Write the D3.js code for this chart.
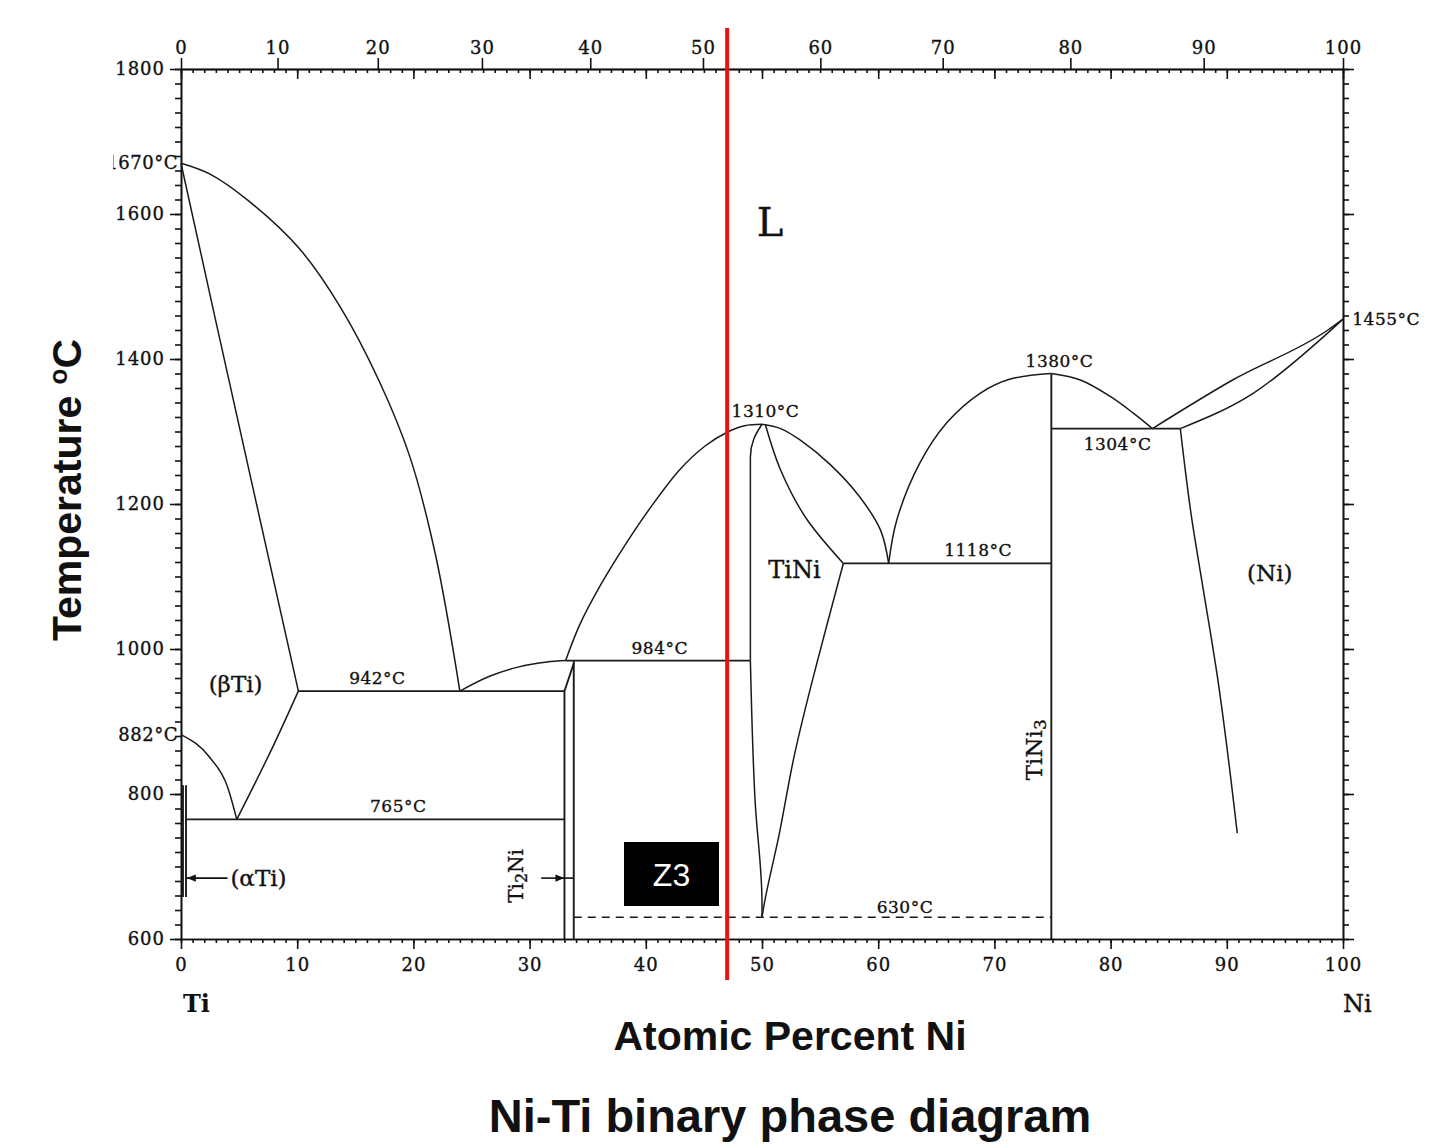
<!DOCTYPE html>
<html>
<head>
<meta charset="utf-8">
<script src="https://cdnjs.cloudflare.com/ajax/libs/d3/7.8.5/d3.min.js"></script>
<style>
body { margin: 0; background: #fff; }
svg text { font-family: "DejaVu Serif", serif; fill: #111; }
.serif { stroke: #111; stroke-width: 0.35px; }
.tick text { font-size: 18px; letter-spacing: 1px; stroke: #111; stroke-width: 0.35px; }
.tick line, .domain { stroke: #111; stroke-width: 1.6; }
</style>
</head>
<body>
<svg id="chart" width="1454" height="1148"></svg>
<script>
// ---- data: (atomic % Ni, temperature in C) ----
var atTicks = [0, 10, 20, 30, 40, 50, 60, 70, 80, 90, 100];
var wtTicks = [0, 10, 20, 30, 40, 50, 60, 70, 80, 90, 100];
var tempTicks = [600, 800, 1000, 1200, 1400, 1600, 1800];

var liqTi    = [[0,1670],[2.5,1655],[5.9,1617],[10.2,1552],[13.7,1472],[17.1,1368],[19.7,1265],[21.9,1130],[24.0,942]];
var solBeta  = [[0,1670],[3,1452],[6.5,1200],[10.1,942]];
var liqTi2Ni = [[24.0,942],[26.5,962],[29,975],[31.5,982],[33.1,984]];
var liqTiNiL = [[33.1,984],[34.3,1033],[36.1,1088],[38.2,1143],[40.4,1195],[42.9,1247],[45.1,1280],[47.0,1299],[48.5,1308],[50,1310]];
var liqTiNiR = [[50,1310],[51.6,1304],[53.3,1288],[55.9,1254],[58.4,1210],[60.2,1164],[60.9,1118]];
var solTiNiR = [[50.3,1309],[51.6,1247],[53.9,1178],[57.0,1118]];
var solTiNiL = [[50,1310],[49.3,1290],[49.0,1265],[49.0,984]];
var solvTiNiL = [[49.0,984],[49.4,792],[50.0,650],[50.0,630]];
var solvTiNiR = [[57.0,1118],[55.7,1040],[52.7,847],[51.5,746],[50.1,640],[50.0,630]];
var liqTiNi3L = [[60.9,1118],[61.6,1178],[63.6,1257],[65.9,1312],[68.8,1353],[71.3,1372],[74.9,1380]];
var liqTiNi3R = [[74.9,1380],[77.4,1371],[80.0,1348],[81.9,1326],[83.6,1304]];
var liqNi    = [[83.6,1304],[90.5,1371],[98.7,1440],[100,1455]];
var solNi    = [[86.0,1304],[92.3,1353],[98.7,1436],[100,1455]];
var solvNi   = [[86.0,1304],[87.0,1178],[87.8,1099],[89.2,961],[90.9,746]];
var transBeta = [[0,882],[2.5,850],[4.0,810],[4.8,765]];
var solvBeta = [[10.1,942],[7.9,865],[4.8,765]];
var alphaA   = [[0.17,812],[0.17,658]];
var alphaB   = [[0.43,812],[0.43,658]];
var ti2NiL   = [[33.0,600],[33.0,942],[33.8,980]];
var ti2NiR   = [[33.8,984],[33.8,600]];
var tiNi3    = [[74.9,600],[74.9,1380]];

// isotherms: [temperature, from at%, to at%]
var isotherms = [[942,10.1,33.0],[765,0.35,33.0],[984,33.1,49.0],[1118,57.0,74.9],[1304,74.9,86.0]];
var eutectoid = [[33.8,630],[74.9,630]];

var redLineAt = 47.0;

// annotations: [text, at%, T, anchor, dy]
var tempLabels = [
  ["942°C", 16.9, 942, "middle", -7],
  ["765°C", 18.7, 765, "middle", -7],
  ["984°C", 41.2, 984, "middle", -7],
  ["1118°C", 68.6, 1118, "middle", -7],
  ["1304°C", 80.6, 1304, "middle", 21],
  ["630°C", 62.3, 630, "middle", -4],
  ["1310°C", 50.3, 1310, "middle", -7],
  ["1380°C", 75.6, 1380, "middle", -7],
  ["1455°C", 100.8, 1455, "start", 6]
];
var phaseLabels = [
  ["L", 50.7, 1589, 40],
  ["(βTi)", 4.7, 952, 23],
  ["TiNi", 52.8, 1109, 24],
  ["(Ni)", 93.7, 1105, 23]
];

var svg = d3.select("#chart");
var x = d3.scaleLinear().domain([0, 100]).range([181, 1343]);
var y = d3.scaleLinear().domain([600, 1800]).range([939, 69]);

// weight % -> atomic % for the top axis
function wtToAt(w) {
  var ni = w / 58.693, ti = (100 - w) / 47.867;
  return 100 * ni / (ni + ti);
}

var line = d3.line().x(d => x(d[0])).y(d => y(d[1]));
var curveX = d3.line().x(d => x(d[0])).y(d => y(d[1])).curve(d3.curveMonotoneX);
var curveY = d3.line().x(d => x(d[0])).y(d => y(d[1])).curve(d3.curveMonotoneY);
var curveC = d3.line().x(d => x(d[0])).y(d => y(d[1])).curve(d3.curveCatmullRom.alpha(0.5));

// axes
svg.append("g").attr("transform", "translate(0,939)")
  .call(d3.axisBottom(x).tickValues(atTicks).tickSize(10).tickPadding(9).tickSizeOuter(0));
svg.append("g").attr("transform", "translate(0,939)")
  .call(d3.axisBottom(x).tickValues(d3.range(0, 101)).tickSize(4).tickFormat("").tickSizeOuter(0));

svg.append("g").attr("transform", "translate(0,69)")
  .call(d3.axisTop(x).tickValues(wtTicks.map(wtToAt)).tickFormat((d, i) => wtTicks[i]).tickSize(11).tickPadding(4).tickSizeOuter(0));
svg.append("g").attr("transform", "translate(0,69)")
  .call(d3.axisBottom(x).tickValues(d3.range(0, 101)).tickSize(4).tickFormat("").tickSizeOuter(0));
svg.append("g").attr("transform", "translate(0,69)")
  .call(d3.axisBottom(x).tickValues(atTicks).tickSize(10).tickFormat("").tickSizeOuter(0));

svg.append("g").attr("transform", "translate(181,0)")
  .call(d3.axisLeft(y).tickValues(tempTicks).tickFormat(d3.format("d")).tickSize(11).tickPadding(5).tickSizeOuter(0));
svg.append("g").attr("transform", "translate(181,0)")
  .call(d3.axisLeft(y).tickValues(d3.range(600, 1801, 20)).tickSize(6).tickFormat("").tickSizeOuter(0));
svg.append("g").attr("transform", "translate(1343,0)")
  .call(d3.axisRight(y).tickValues(tempTicks).tickSize(11).tickFormat("").tickSizeOuter(0));
svg.append("g").attr("transform", "translate(1343,0)")
  .call(d3.axisRight(y).tickValues(d3.range(600, 1801, 20)).tickSize(6).tickFormat("").tickSizeOuter(0));

svg.selectAll(".tick text").style("font-size", "18px");

// phase boundaries
var g = svg.append("g").attr("fill", "none").attr("stroke", "#1a1a1a").attr("stroke-width", 1.5);
[liqTi, liqTiNiL, liqTiNiR, liqTiNi3L, liqTiNi3R].forEach(function (d) {
  g.append("path").attr("d", curveC(d));
});
[liqTi2Ni, liqNi, solNi, transBeta].forEach(function (d) {
  g.append("path").attr("d", curveX(d));
});
[solBeta, solTiNiR, solvTiNiR, solvNi, solvBeta, solTiNiL, solvTiNiL].forEach(function (d) {
  g.append("path").attr("d", curveY(d));
});
[ti2NiL, ti2NiR, tiNi3, alphaA, alphaB].forEach(function (d) {
  g.append("path").attr("d", line(d)).attr("stroke-width", 1.9);
});
g.selectAll("line.iso")
  .data(isotherms).enter().append("line")
  .attr("x1", d => x(d[1])).attr("x2", d => x(d[2]))
  .attr("y1", d => y(d[0])).attr("y2", d => y(d[0]))
  .attr("stroke-width", 1.8);
g.append("path").attr("d", line(eutectoid)).attr("stroke-dasharray", "8,6").attr("stroke-width", 1.6);

// arrows for the narrow phases
svg.append("defs").append("marker")
  .attr("id", "head").attr("viewBox", "0 0 10 10").attr("refX", 10).attr("refY", 5)
  .attr("markerWidth", 16).attr("markerHeight", 9).attr("markerUnits", "userSpaceOnUse")
  .attr("orient", "auto")
  .append("path").attr("d", "M0,1 L10,5 L0,9 Z").attr("fill", "#111");
var arrowT = 684;
svg.append("line").attr("x1", x(4.0)).attr("x2", x(0.5)).attr("y1", y(arrowT)).attr("y2", y(arrowT))
  .attr("stroke", "#111").attr("stroke-width", 1.6).attr("marker-end", "url(#head)");
svg.append("line").attr("x1", x(31.0)).attr("x2", x(33.0)).attr("y1", y(arrowT)).attr("y2", y(arrowT))
  .attr("stroke", "#111").attr("stroke-width", 1.6).attr("marker-end", "url(#head)");
svg.append("line").attr("x1", x(33.0)).attr("x2", x(33.8)).attr("y1", y(arrowT)).attr("y2", y(arrowT))
  .attr("stroke", "#111").attr("stroke-width", 1.6);

// temperature labels
svg.selectAll("text.temp")
  .data(tempLabels).enter().append("text")
  .attr("class", "serif")
  .attr("x", d => x(d[1]))
  .attr("y", d => y(d[2]) + d[4])
  .attr("text-anchor", d => d[3])
  .style("font-size", "17px").style("letter-spacing", "0.5px")
  .text(d => d[0]);

// clipped labels at the left edge
svg.append("clipPath").attr("id", "leftclip").append("rect")
  .attr("x", 113).attr("y", 0).attr("width", 120).attr("height", 1148);
var leftLabels = [["1670°C", 1670], ["882°C", 882]];
svg.append("g").attr("clip-path", "url(#leftclip)")
  .selectAll("text").data(leftLabels).enter().append("text")
  .attr("class", "serif")
  .attr("x", 178).attr("y", d => y(d[1]) + 6)
  .attr("text-anchor", "end")
  .style("font-size", "18px").style("letter-spacing", "0.5px")
  .text(d => d[0]);

// phase region labels
svg.selectAll("text.phase")
  .data(phaseLabels).enter().append("text")
  .attr("class", "serif")
  .attr("x", d => x(d[1])).attr("y", d => y(d[2]))
  .attr("text-anchor", "middle").attr("dominant-baseline", "central")
  .style("font-size", d => d[3] + "px")
  .text(d => d[0]);

svg.append("text").attr("class", "serif").attr("x", x(4.25)).attr("y", y(arrowT))
  .attr("dominant-baseline", "central").style("font-size", "23px").text("(αTi)");

var t3 = svg.append("text").attr("class", "serif")
  .attr("transform", "translate(" + x(73.4) + "," + y(861) + ") rotate(-90)")
  .attr("text-anchor", "middle").attr("dominant-baseline", "central")
  .style("font-size", "23px");
t3.append("tspan").text("TiNi");
t3.append("tspan").attr("dy", 6).style("font-size", "17px").text("3");

var t2 = svg.append("text").attr("class", "serif")
  .attr("transform", "translate(" + x(28.8) + "," + y(687) + ") rotate(-90)")
  .attr("text-anchor", "middle").attr("dominant-baseline", "central")
  .style("font-size", "20px");
t2.append("tspan").text("Ti");
t2.append("tspan").attr("dy", 5).style("font-size", "16px").text("2");
t2.append("tspan").attr("dy", -5).text("Ni");

svg.append("text").attr("x", 183).attr("y", 1012)
  .style("font-size", "24px").style("font-weight", "bold").text("Ti");
svg.append("text").attr("class", "serif").attr("x", 1343).attr("y", 1012)
  .style("font-size", "24px").text("Ni");

// red marker line
svg.append("line").attr("x1", x(redLineAt)).attr("x2", x(redLineAt)).attr("y1", 28).attr("y2", 980)
  .attr("stroke", "#ee1111").attr("stroke-width", 4);

// Z3 box
svg.append("rect").attr("x", 624).attr("y", 842).attr("width", 95).attr("height", 64).attr("fill", "#000");
svg.append("text").attr("x", 671.5).attr("y", 886).attr("text-anchor", "middle")
  .style("font-family", "'Liberation Sans', Arial, sans-serif").style("font-size", "32px")
  .style("fill", "#fff").text("Z3");

// titles
var sans = "'Liberation Sans', Arial, sans-serif";
var yt = svg.append("text")
  .attr("transform", "translate(81,490) rotate(-90)")
  .attr("text-anchor", "middle")
  .style("font-family", sans).style("font-weight", "bold").style("font-size", "41px");
yt.append("tspan").text("Temperature ");
yt.append("tspan").attr("dy", -14).style("font-size", "26px").text("o");
yt.append("tspan").attr("dy", 14).text("C");

svg.append("text").attr("x", 790).attr("y", 1050).attr("text-anchor", "middle")
  .style("font-family", sans).style("font-weight", "bold").style("font-size", "41px")
  .text("Atomic Percent Ni");

svg.append("text").attr("x", 790).attr("y", 1132).attr("text-anchor", "middle")
  .style("font-family", sans).style("font-weight", "bold").style("font-size", "47px")
  .text("Ni-Ti binary phase diagram");
</script>
</body>
</html>
